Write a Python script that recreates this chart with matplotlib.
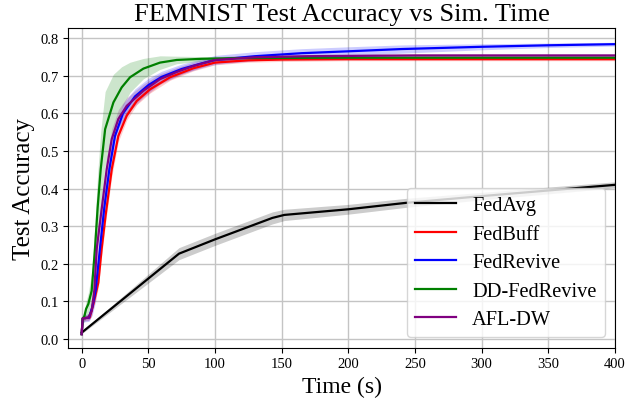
import matplotlib
matplotlib.use("Agg")
import matplotlib.pyplot as plt
import numpy as np

plt.rcParams['font.family'] = ['Liberation Serif', 'DejaVu Serif']

# ---- data ----
fedavg_t   = [0, 73, 100, 143, 152, 200, 243, 300, 350, 400]
fedavg_acc = [0.017, 0.227, 0.265, 0.322, 0.330, 0.345, 0.362, 0.380, 0.395, 0.410]
fedavg_std = [0.003, 0.016, 0.016, 0.016, 0.015, 0.013, 0.012, 0.010, 0.009, 0.008]

fedbuff_t   = [0, 0.8, 6, 8.8, 12.5, 15, 18, 22.6, 27.5, 33.8, 41.3, 51.3, 66.3, 83.8, 100, 125, 150, 200, 300, 400]
fedbuff_acc = [0.013, 0.055, 0.057, 0.093, 0.15, 0.24, 0.33, 0.452, 0.54, 0.594, 0.633, 0.664, 0.696, 0.72, 0.735, 0.741, 0.743, 0.744, 0.744, 0.744]
fedbuff_std = [0.002, 0.005, 0.006, 0.01, 0.015, 0.02, 0.02, 0.02, 0.015, 0.012, 0.01, 0.01, 0.008, 0.007, 0.006, 0.005, 0.005, 0.004, 0.004, 0.004]

fedrevive_t   = [0, 0.8, 5.5, 8, 10.5, 13.7, 17, 20.8, 25, 31, 40, 50, 60, 75, 90, 100, 130, 165, 200, 240, 300, 350, 400]
fedrevive_acc = [0.013, 0.055, 0.057, 0.085, 0.13, 0.24, 0.35, 0.452, 0.54, 0.60, 0.645, 0.675, 0.697, 0.718, 0.733, 0.742, 0.752, 0.760, 0.765, 0.771, 0.777, 0.781, 0.784]
fedrevive_std = [0.002, 0.01, 0.01, 0.02, 0.03, 0.04, 0.04, 0.035, 0.03, 0.025, 0.02, 0.018, 0.015, 0.013, 0.012, 0.012, 0.012, 0.012, 0.012, 0.011, 0.008, 0.006, 0.005]

ddfedrevive_t   = [0, 0.8, 2, 3.3, 5, 7.5, 10, 12, 14.3, 17.6, 23.8, 30, 36.3, 46.3, 58.8, 71.3, 90, 120, 200, 300, 400]
ddfedrevive_acc = [0.013, 0.055, 0.06, 0.08, 0.093, 0.128, 0.24, 0.35, 0.452, 0.558, 0.629, 0.669, 0.696, 0.719, 0.735, 0.742, 0.745, 0.747, 0.748, 0.748, 0.748]
ddfedrevive_std = [0.002, 0.01, 0.015, 0.02, 0.03, 0.05, 0.07, 0.09, 0.1, 0.1, 0.075, 0.055, 0.04, 0.027, 0.018, 0.01, 0.006, 0.005, 0.004, 0.004, 0.004]

afldw_t   = [0, 0.8, 5, 7.5, 9.5, 11.3, 15, 18.8, 22.6, 27.5, 33.8, 46.3, 58.8, 71.3, 83.8, 100, 130, 170, 250, 400]
afldw_acc = [0.013, 0.055, 0.057, 0.075, 0.13, 0.24, 0.345, 0.452, 0.532, 0.585, 0.62, 0.66, 0.691, 0.71, 0.726, 0.742, 0.749, 0.752, 0.754, 0.754]
afldw_std = [0.002, 0.008, 0.008, 0.015, 0.025, 0.035, 0.035, 0.03, 0.028, 0.025, 0.022, 0.018, 0.014, 0.012, 0.01, 0.008, 0.006, 0.005, 0.004, 0.004]

series = [
    ("FedAvg", fedavg_t, fedavg_acc, fedavg_std, "black"),
    ("FedBuff", fedbuff_t, fedbuff_acc, fedbuff_std, "red"),
    ("FedRevive", fedrevive_t, fedrevive_acc, fedrevive_std, "blue"),
    ("DD-FedRevive", ddfedrevive_t, ddfedrevive_acc, ddfedrevive_std, "green"),
    ("AFL-DW", afldw_t, afldw_acc, afldw_std, "purple"),
]

x_ticks = [0, 50, 100, 150, 200, 250, 300, 350, 400]
y_ticks = [0.0, 0.1, 0.2, 0.3, 0.4, 0.5, 0.6, 0.7, 0.8]

fig = plt.figure(figsize=(6.44, 4.02), dpi=100)
ax = fig.add_axes([0.1061, 0.1326, 0.8489, 0.7953])

for name, t, acc, std, col in series:
    t = np.asarray(t); acc = np.asarray(acc); std = np.asarray(std)
    ax.fill_between(t, acc - std, acc + std, color=col, alpha=0.2, linewidth=0)
    ax.plot(t, acc, color=col, linewidth=1.6, label=name)

ax.set_xlim(-10, 400)
ax.set_ylim(-0.023, 0.827)
ax.set_xticks(x_ticks)
ax.set_yticks(y_ticks)
ax.set_yticklabels([f"{v:.1f}" for v in y_ticks])
ax.tick_params(labelsize=10.5)
ax.grid(True, color='#c4c4c4', linewidth=1.0)
ax.set_axisbelow(True)

ax.set_title("FEMNIST Test Accuracy vs Sim. Time", fontsize=19)
ax.set_xlabel("Time (s)", fontsize=17)
ax.set_ylabel("Test Accuracy", fontsize=18)

ax.legend(loc='lower right', fontsize=14.7, labelspacing=0.45,
          borderaxespad=0.5, handlelength=2.0)

fig.savefig("out.png", dpi=100)
